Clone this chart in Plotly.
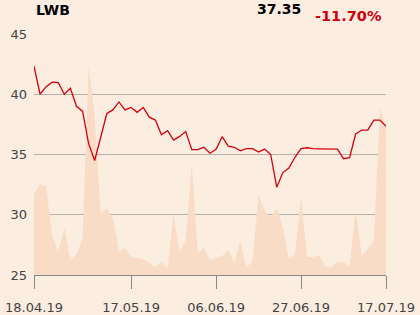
import plotly.graph_objects as go

prices = [42.34, 40.0, 40.63, 41.0, 40.96, 40.0, 40.5, 39.0, 38.6, 35.9,
          34.5, 36.5, 38.4, 38.7, 39.36, 38.7, 38.9, 38.5, 38.9, 38.1,
          37.86, 36.64, 36.97, 36.2, 36.5, 36.9, 35.4, 35.4, 35.6, 35.1,
          35.43, 36.48, 35.7, 35.6, 35.3, 35.48, 35.48, 35.2, 35.45, 35.0,
          32.28, 33.5, 33.88, 34.77, 35.48, 35.56, 35.48, 35.47, 35.47, 35.47,
          35.45, 34.65, 34.73, 36.7, 37.03, 37.03, 37.86, 37.86, 37.35]

volumes = [81, 91, 89, 39, 24, 47, 15, 21, 36, 209,
           160, 61, 67, 57, 24, 27, 18, 17, 16, 12,
           8, 13, 6, 60, 23, 35, 110, 22, 27, 15,
           18, 19, 25, 12, 34, 7, 14, 80, 64, 58,
           67, 48, 16, 20, 78, 18, 18, 20, 8, 8,
           13, 13, 9, 64, 20, 26, 34, 167, 145]

tick_idx = [0, 16, 30, 44, 58]
tick_labels = ["18.04.19", "17.05.19", "06.06.19", "27.06.19", "17.07.19"]

title = "LWB"
last_price = "37.35"
change = "-11.70%"

x = list(range(len(prices)))

FONT = "DejaVu Sans"
ML, MR, MT, MB = 34, 34, 34, 40
W, H = 420, 315
pw, ph = W - ML - MR, H - MT - MB

fig = go.Figure()
fig.add_trace(go.Scatter(x=x, y=volumes, yaxis="y", mode="lines",
                         line=dict(width=0, color="#F8DCC6"),
                         fill="tozeroy", fillcolor="#F8DCC6",
                         hoverinfo="skip", showlegend=False))
fig.add_trace(go.Scatter(x=x, y=prices, yaxis="y2", mode="lines",
                         line=dict(width=1.3, color="#D8000C"),
                         showlegend=False))

fig.update_layout(
    width=W, height=H,
    margin=dict(l=ML, r=MR, t=MT, b=MB),
    paper_bgcolor="#FBEDE0", plot_bgcolor="#FBEDE0",
    font=dict(family=FONT, size=13, color="#444444"),
    xaxis=dict(range=[0, len(prices) - 1], tickmode="array",
               tickvals=tick_idx, ticktext=tick_labels, automargin=False,
               showgrid=False, zeroline=False, showline=True,
               linecolor="#888888", linewidth=1,
               ticks="outside", ticklen=13, tickcolor="#888888",
               ticklabelstandoff=7,
               tickfont=dict(size=13, color="#444444")),
    yaxis=dict(range=[0, 241], visible=False, showgrid=False, zeroline=False,
               automargin=False),
    yaxis2=dict(range=[25, 45], tickvals=[25, 30, 35, 40, 45], automargin=False,
                overlaying="y", side="left",
                showgrid=True, gridcolor="#B5B0AA", gridwidth=1,
                zeroline=False, showline=False, ticks="", ticklabelstandoff=6,
                tickfont=dict(size=13, color="#444444")),
)

fig.layout.annotations = [
    dict(text="<b>" + title + "</b>", xref="paper", yref="paper",
         x=0, y=(H - MB - 10) / ph, xanchor="left", yanchor="middle",
         showarrow=False, font=dict(family=FONT, size=14, color="#000000")),
    dict(text="<b>" + last_price + "</b>", xref="paper", yref="paper",
         x=(303 - ML) / pw, y=(H - MB - 9) / ph, xanchor="right", yanchor="middle",
         showarrow=False, font=dict(family=FONT, size=14, color="#000000")),
    dict(text="<b>" + change + "</b>", xref="paper", yref="paper",
         x=(384 - ML) / pw, y=(H - MB - 16) / ph, xanchor="right", yanchor="middle",
         showarrow=False, font=dict(family=FONT, size=14.5, color="#D0000F")),
]

fig.write_html("out.html")
